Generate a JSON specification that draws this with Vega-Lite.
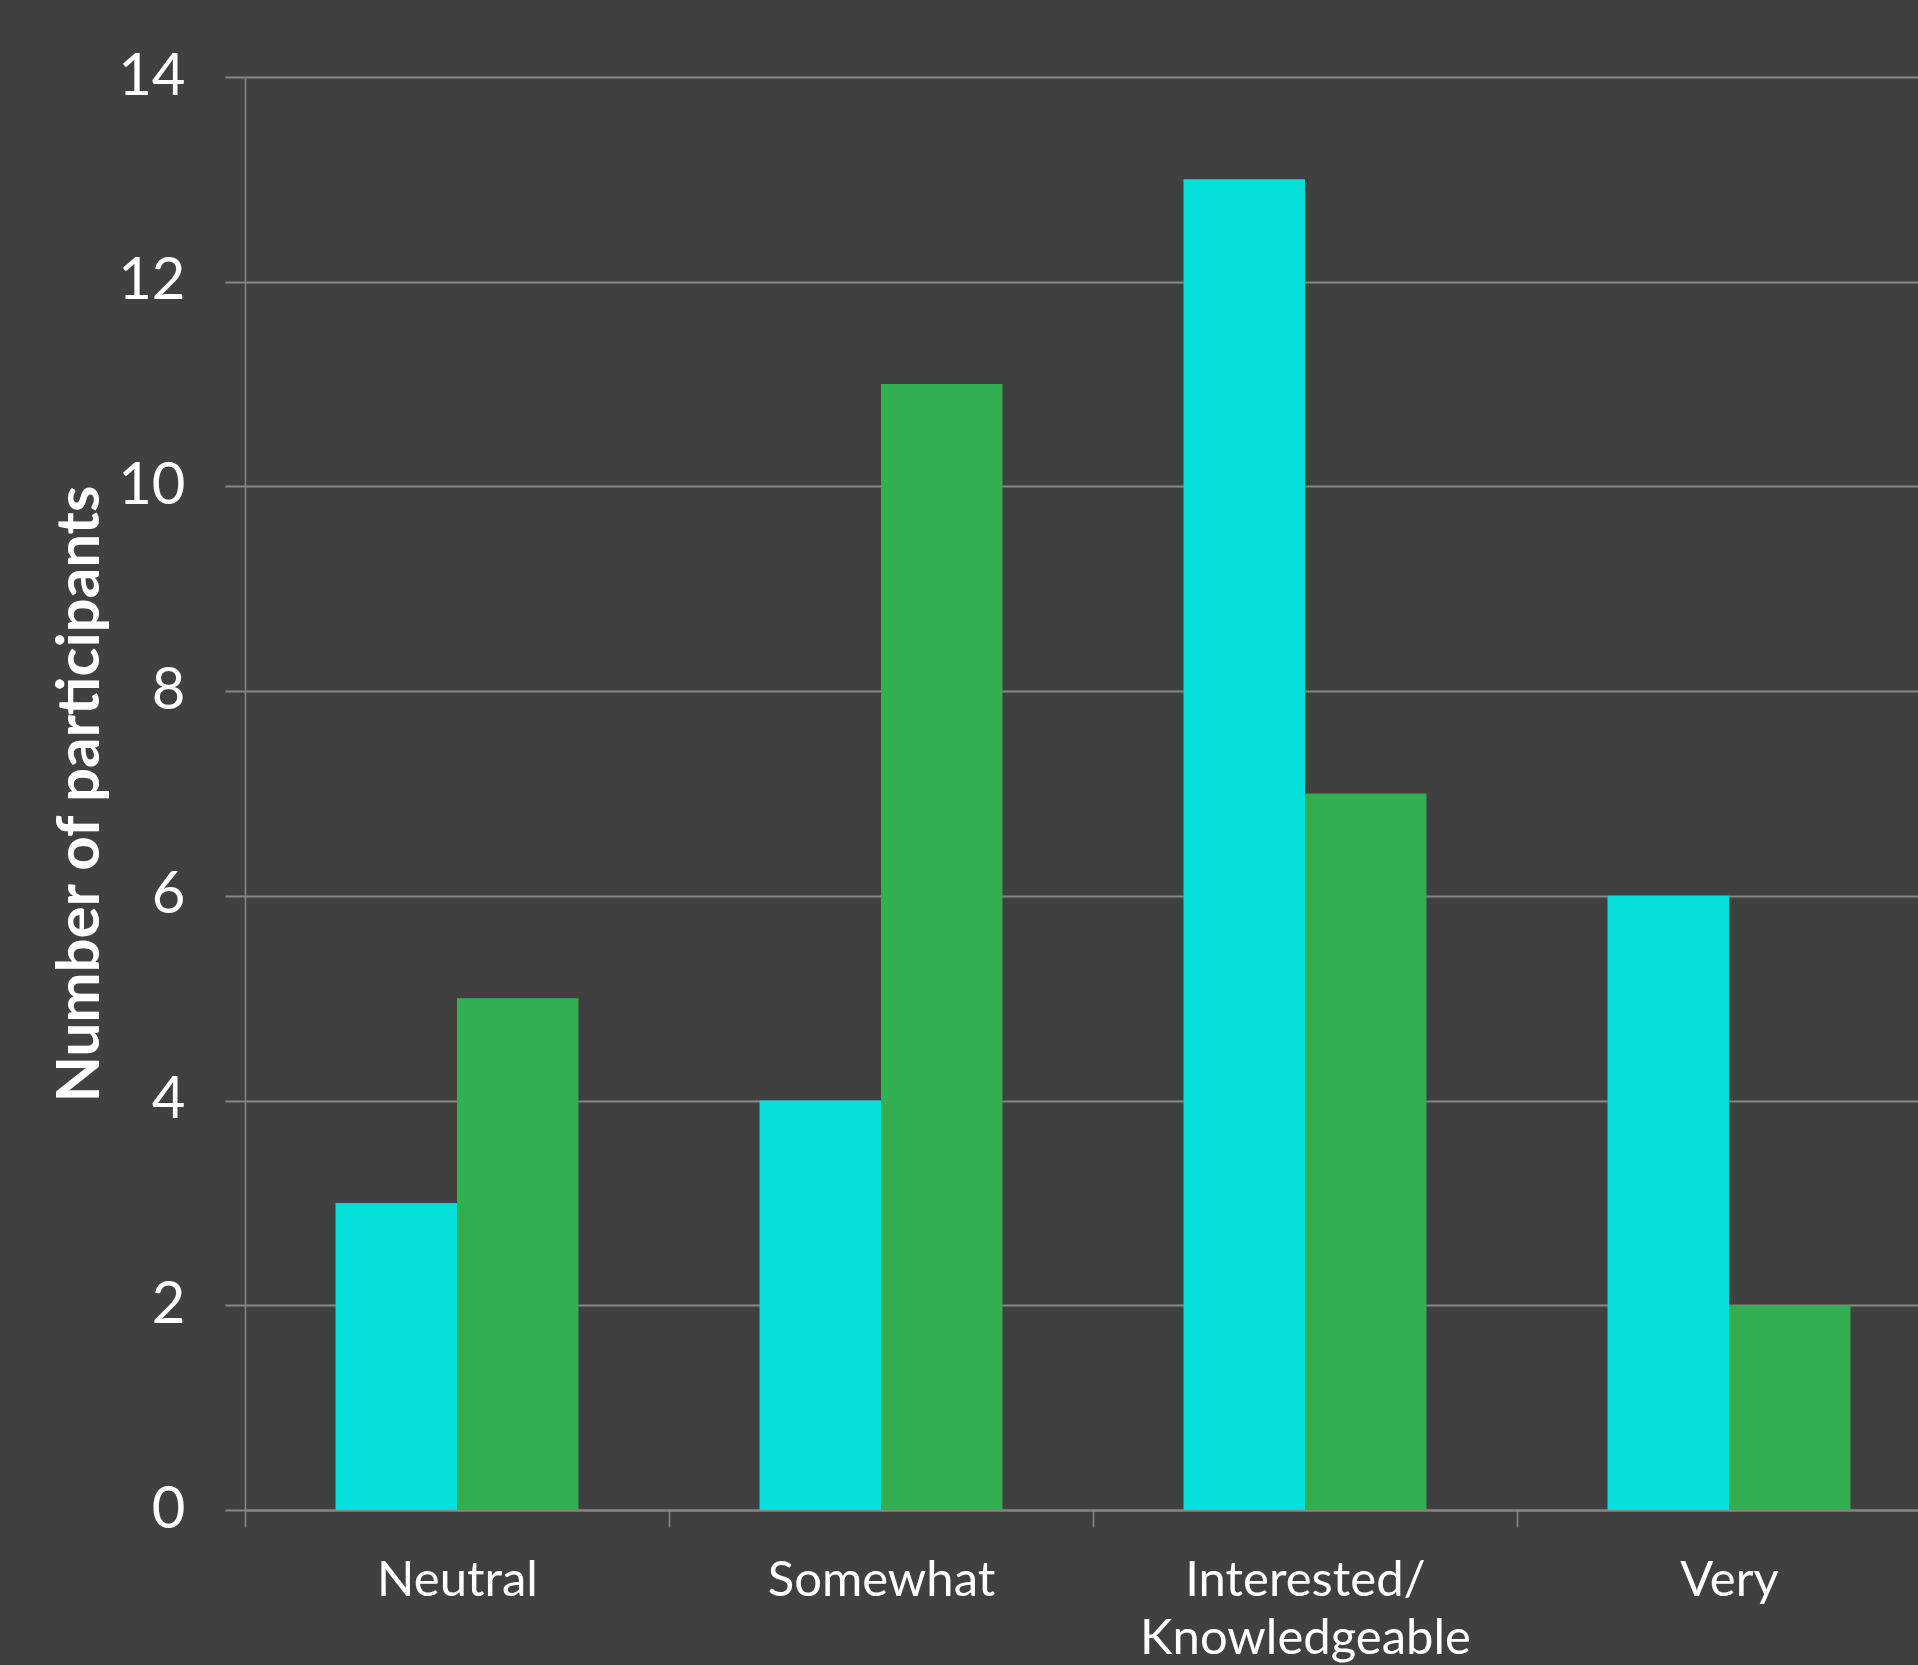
{
  "$schema": "https://vega.github.io/schema/vega-lite/v6.json",
  "width": 1673,
  "height": 1433,
  "autosize": {"type": "none"},
  "padding": {"left": 245, "top": 77, "right": 0, "bottom": 155},
  "background": "#404040",
  "data": {
    "values": [
      {"category": "Neutral", "series": "Series 1", "value": 3},
      {"category": "Neutral", "series": "Series 2", "value": 5},
      {"category": "Somewhat", "series": "Series 1", "value": 4},
      {"category": "Somewhat", "series": "Series 2", "value": 11},
      {"category": "Interested/Knowledgeable", "series": "Series 1", "value": 13},
      {"category": "Interested/Knowledgeable", "series": "Series 2", "value": 7},
      {"category": "Very", "series": "Series 1", "value": 6},
      {"category": "Very", "series": "Series 2", "value": 2}
    ]
  },
  "mark": {"type": "bar"},
  "encoding": {
    "x": {
      "field": "category",
      "type": "nominal",
      "sort": ["Neutral", "Somewhat", "Interested/Knowledgeable", "Very"],
      "scale": {"range": [0, 1696], "paddingInner": 0, "paddingOuter": 0},
      "axis": {
        "title": null,
        "labelAngle": 0,
        "labelFont": "Lato",
        "labelFontSize": 49,
        "labelColor": "#ffffff",
        "labelPadding": 29,
        "labelLineHeight": 58,
        "labelBaseline": "top",
        "labelExpr": "datum.label == 'Interested/Knowledgeable' ? ['Interested/', 'Knowledgeable'] : datum.label",
        "tickBand": "extent",
        "ticks": true,
        "tickSize": 17,
        "tickColor": "#868686",
        "tickWidth": 1.5,
        "domainColor": "#868686",
        "domainWidth": 2,
        "grid": false,
        "labelOverlap": false,
        "labelLimit": 0
      }
    },
    "xOffset": {
      "field": "series",
      "type": "nominal",
      "scale": {"paddingInner": 0, "paddingOuter": 0.745}
    },
    "y": {
      "field": "value",
      "type": "quantitative",
      "scale": {"domain": [0, 14], "nice": false},
      "axis": {
        "title": "Number of participants",
        "titleFont": "Lato",
        "titleFontSize": 60,
        "titleFontWeight": "bold",
        "titleColor": "#ffffff",
        "titleAngle": -90,
        "titleX": -147,
        "titleY": 716.5,
        "titleAlign": "center",
        "titleBaseline": "alphabetic",
        "values": [0, 2, 4, 6, 8, 10, 12, 14],
        "labelFont": "Lato",
        "labelFontSize": 58,
        "labelColor": "#ffffff",
        "labelPadding": 40,
        "tickSize": 20,
        "tickColor": "#868686",
        "tickWidth": 2,
        "domainColor": "#868686",
        "domainWidth": 1.5,
        "grid": true,
        "gridColor": "#868686",
        "gridWidth": 2
      }
    },
    "color": {
      "field": "series",
      "type": "nominal",
      "scale": {"domain": ["Series 1", "Series 2"], "range": ["#05E1DA", "#32AE53"]},
      "legend": null
    }
  },
  "config": {"view": {"stroke": null}}
}
